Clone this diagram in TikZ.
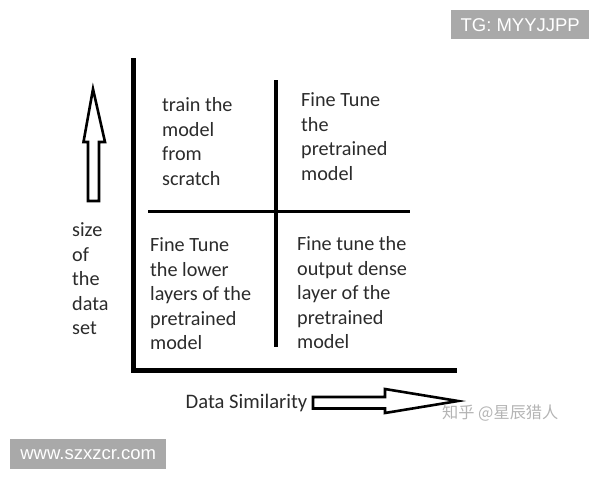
\documentclass[tikz,border=0pt]{standalone}
\usepackage{fontspec}
\setmainfont{Carlito}
\newfontfamily\wmfont{Liberation Sans}
\newfontfamily\cjk{Noto Sans CJK SC}
\usepackage{tikz}
\usetikzlibrary{calc}
\definecolor{inkgray}{HTML}{2B2B2B}
\definecolor{boxgray}{HTML}{A9A9A9}
\definecolor{markgray}{HTML}{B4B4B4}
\tikzset{
    quad/.style={anchor=north west, inner sep=0pt, align=left, text=inkgray,
        font=\fontsize{20.2}{24.5}\selectfont},
    axisline/.style={line width=5pt},
    splitline/.style={line width=3.5pt},
    hollow/.style={line width=2.6pt, fill=white, line join=miter},
    stamp/.style={fill=boxgray, text=white, inner sep=0pt, font=\wmfont\fontsize{18.5}{20}\selectfont}
}

\begin{document}
\begin{tikzpicture}[x=1pt, y=-1pt]
        \useasboundingbox (0,0) rectangle (600,480);

        % Axes
        \coordinate (top) at (133.5,58);
        \coordinate (O) at (133.5,370);
        \coordinate (right) at (457,370);
        \draw[axisline] (top) -- (O) -- (right);

        % quadrant lines
        \draw[splitline] (148,211.5) -- (410,211.5);
        \draw[splitline] (276,80) -- (276,347);

        % quadrants
        \node[quad] (scratch) at (162,97.5) {train the\\model\\from\\scratch};
        \node[quad] (finetune) at (301,92.5) {Fine Tune\\the\\pretrained\\model};
        \node[quad] (lower) at (150,237.5) {Fine Tune\\the lower\\layers of the\\pretrained\\model};
        \node[quad] (dense) at (297,236.5) {Fine tune the\\output dense\\layer of the\\pretrained\\model};

        % size arrow
        \draw[hollow] (93,89) -- (105,142) -- (99,142) -- (99,201)
            -- (88,201) -- (88,142) -- (83.5,142) -- cycle;
        \node[quad] (size) at (72,222.5) {size\\of\\the\\data\\set};

        % similarity arrow
        \node[quad, anchor=base west, font=\fontsize{20.6}{24.5}\selectfont] (sim) at (185.5,408.5) {Data Similarity};
        \draw[hollow] (313,397) -- (385,397) -- (385,389) -- (458,401)
            -- (385,413) -- (385,408.5) -- (313,408.5) -- cycle;

        % watermarks
        \node[anchor=west, inner sep=0pt, text=markgray, font=\cjk\fontsize{16.2}{17}\selectfont] (zhihu) at (442,413) {知乎 @星辰猎人};
        \node[stamp, minimum width=138pt, minimum height=29pt, anchor=north west] (tg) at (451,10) {TG: MYYJJPP};
        \node[stamp, minimum width=156pt, minimum height=30pt, anchor=north west] (site) at (10,439) {www.szxzcr.com};
    \end{tikzpicture}
\end{document}
